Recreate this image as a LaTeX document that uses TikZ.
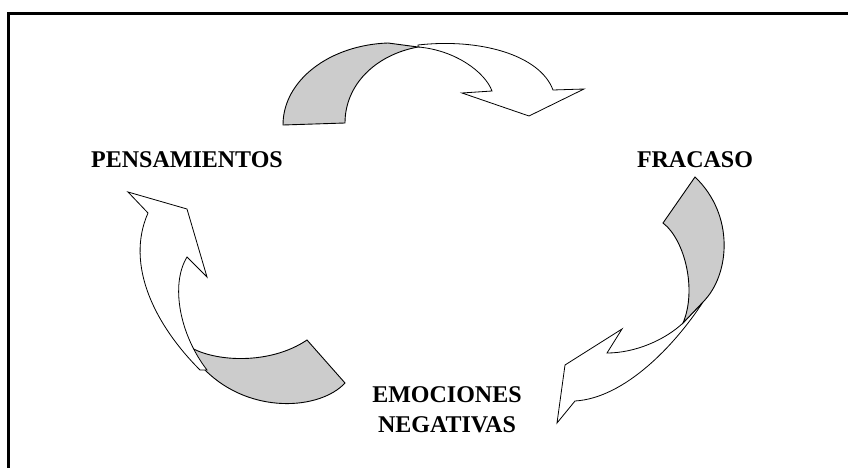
\documentclass[tikz,border=0pt]{standalone}
\usepackage{fontspec}
\setmainfont{Liberation Serif}
\tikzset{
  faceband/.style={draw, line width=0.9pt, fill=black!20, line join=miter},
  backband/.style={draw, line width=0.8pt, fill=white, line join=miter},
  cyclelabel/.style={font=\fontsize{24}{30}\selectfont\bfseries, align=center, inner sep=0pt}
}
\begin{document}
\begin{tikzpicture}[x=1pt, y=-1pt]
\useasboundingbox (0,0) rectangle (848,468);
\draw[line width=3pt] (8.5,468) -- (8.5,13.5) -- (848,13.5);

\node[cyclelabel] (pens) at (187,160) {PENSAMIENTOS};
\node[cyclelabel] (frac) at (695,160) {FRACASO};
\node[cyclelabel] (emoc) at (447,410) {EMOCIONES\\NEGATIVAS};

% arriba
\draw[backband] (418,47) .. controls (455,50) and (485,72) .. (492,91)
  -- (462,93) -- (529,116) -- (584,89) -- (553,90)
  .. controls (540,55) and (480,38) .. (418,45) -- cycle;
\draw[faceband] (283,125) .. controls (283,80) and (330,45) .. (388,43)
  -- (418,47) .. controls (375,55) and (345,85) .. (345,123) -- cycle;

% derecha
\draw[backband] (683,323) .. controls (665,340) and (635,353) .. (607,353)
  -- (622,329) -- (565,365) -- (557,423) -- (575,401)
  .. controls (625,398) and (675,345) .. (703,302) -- cycle;
\draw[faceband] (663,223) -- (695,177) .. controls (735,215) and (730,275) .. (703,302)
  -- (683,323) .. controls (697,290) and (685,240) .. (663,223) -- cycle;

% izquierda
\draw[faceband] (307,340) -- (345,383) .. controls (320,410) and (250,415) .. (205,370)
  -- (190,347) .. controls (215,362) and (270,365) .. (307,340) -- cycle;
\draw[backband] (200,370) .. controls (155,325) and (125,265) .. (148,213)
  -- (128,192) -- (187,209) -- (207,277) -- (187,257)
  .. controls (170,285) and (180,335) .. (207,370) -- cycle;
\end{tikzpicture}
\end{document}
